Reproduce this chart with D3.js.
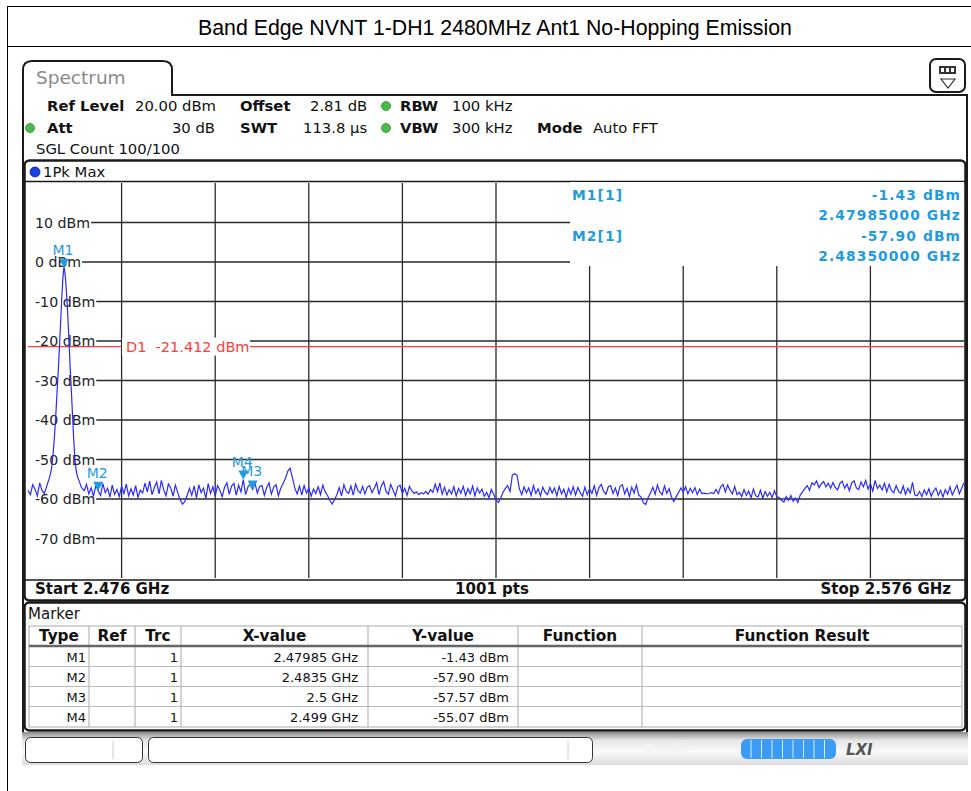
<!DOCTYPE html>
<html><head><meta charset="utf-8">
<script src="https://cdn.jsdelivr.net/npm/d3@7"></script>
<style>
body{margin:0;background:#fff;}
svg{display:block;}
text{font-family:"DejaVu Sans",Verdana,sans-serif;}
</style>
</head><body>
<svg id="c" width="971" height="791"></svg>
<script>
// ---------------- data ----------------
const chartTitle = "Band Edge NVNT 1-DH1 2480MHz Ant1 No-Hopping Emission";
const startFreqMHz = 2476, stopFreqMHz = 2576;
const topLevelDbm = 20, bottomLevelDbm = -80;
const freqGridMHz = [2486, 2496, 2506, 2516, 2526, 2536, 2546, 2556, 2566];
const levelTicks = [10, 0, -10, -20, -30, -40, -50, -60, -70];
const levelTickLabels = ["10 dBm", "0 dBm", "-10 dBm", "-20 dBm", "-30 dBm", "-40 dBm", "-50 dBm", "-60 dBm", "-70 dBm"];
const d1LevelDbm = -21.412;
const d1Label = "D1  -21.412 dBm";

const noiseStepMHz = 0.25;
const leftNoiseStartMHz = 2476;
const leftNoiseDbm = [-57.8, -58.9, -56.4, -57.5, -59.2, -55.9, -57.9, -58.6];

const peakFreqMHz = [2477.9, 2478.1, 2478.3, 2478.5, 2478.6, 2478.7, 2478.8, 2478.9, 2479.0, 2479.1,
  2479.2, 2479.3, 2479.4, 2479.5, 2479.6, 2479.7, 2479.8, 2479.85, 2479.9, 2480.0, 2480.1, 2480.2,
  2480.3, 2480.4, 2480.5, 2480.6, 2480.7, 2480.8, 2480.9, 2481.0, 2481.1, 2481.2, 2481.35, 2481.5,
  2481.65, 2481.8];
const peakDbm = [-57.5, -56.0, -54.6, -52.5, -50.5, -48.0, -45.0, -41.5, -37.5, -33.0,
  -29.0, -24.5, -19.5, -14.5, -9.5, -5.0, -2.0, -1.43, -1.8, -4.0, -7.5, -11.0,
  -16.0, -21.0, -26.5, -31.0, -36.0, -41.0, -45.5, -49.5, -52.0, -53.5, -54.8, -55.6,
  -56.8, -57.4];

const rightNoiseStartMHz = 2482;
const rightNoiseDbm = [
  -57.9, -56.3, -58.7, -57.2, -59.3, -56.6, -57.9, -59.1, -56.1, -58.4, -57.3, -59.5, -56.5, -58.8, -57.6, -59.4, -56.7, -58.6, -56.2, -59.2,
  -57.4, -59.0, -56.6, -59.6, -57.8, -58.5, -56.0, -58.2, -55.5, -58.9, -57.1, -55.7, -58.7, -55.3, -57.7, -59.2, -56.2, -57.2, -59.3, -56.5,
  -58.4, -60.2, -61.3, -60.6, -59.1, -57.3, -59.1, -56.7, -59.7, -56.4, -58.4, -57.2, -59.9, -56.1, -58.6, -56.9, -59.2, -56.6, -57.8, -59.4,
  -57.0, -55.9, -58.8, -56.7, -56.1, -59.0, -56.5, -58.2, -55.07, -58.9, -56.9, -56.3, -57.57, -56.0, -58.5, -56.8, -56.6, -59.1, -57.1, -55.9,
  -58.8, -57.0, -56.4, -59.2, -57.3, -56.1, -54.8, -53.0, -52.2, -54.6, -57.2, -58.7, -56.7, -59.0, -56.6, -58.5, -57.2, -59.3, -57.5, -58.6,
  -56.9, -58.9, -56.5, -58.2, -59.1, -60.4, -61.3, -60.1, -58.9, -57.1, -59.2, -56.4, -58.1, -58.6, -56.7, -59.0, -56.2, -57.9, -58.5, -56.8,
  -58.7, -57.0, -56.6, -58.4, -57.2, -55.9, -58.9, -56.7, -55.6, -58.1, -58.8, -56.3, -57.7, -59.2, -56.9, -56.5, -58.6, -57.3, -59.1, -56.8,
  -57.9, -58.6, -58.2, -58.9, -58.4, -58.7, -58.1, -58.8, -57.6, -58.3, -56.2, -58.1, -55.9, -58.8, -57.0, -59.0, -57.6, -58.7, -56.9, -59.2,
  -57.3, -58.6, -56.8, -59.1, -57.4, -58.7, -56.7, -59.2, -57.2, -58.5, -57.5, -59.3, -58.3, -59.7, -57.6, -58.8, -60.2, -60.9, -59.8, -58.3,
  -57.3, -56.6, -58.1, -53.9, -53.6, -54.0, -57.4, -58.9, -56.9, -58.4, -57.2, -59.1, -56.6, -58.6, -57.4, -59.2, -57.0, -58.3, -58.9, -57.1,
  -58.5, -57.2, -59.2, -56.8, -58.7, -57.5, -59.6, -57.3, -58.8, -56.9, -59.0, -57.1, -58.4, -59.3, -57.0, -58.9, -57.4, -58.6, -56.6, -59.1,
  -57.1, -56.3, -58.1, -58.8, -56.9, -56.6, -58.6, -57.2, -59.1, -56.8, -56.4, -58.7, -57.3, -59.4, -57.0, -58.5, -56.5, -59.0, -59.5, -61.0,
  -61.4, -59.6, -58.5, -57.0, -58.8, -56.5, -58.2, -58.9, -56.7, -58.6, -57.4, -59.5, -60.6, -59.4, -58.4, -57.2, -58.3, -56.9, -58.7, -57.3,
  -58.4, -57.1, -58.9, -57.5, -58.6, -58.5, -58.7, -58.6, -58.4, -58.6, -57.6, -58.6, -56.9, -56.3, -58.2, -56.5, -57.8, -58.7, -56.8, -58.9,
  -58.3, -59.4, -57.6, -59.1, -58.0, -59.7, -57.5, -59.2, -59.5, -57.8, -59.8, -58.1, -59.3, -58.3, -59.6, -57.9, -59.4, -59.6, -60.4, -60.8,
  -59.4, -60.3, -59.1, -60.6, -59.8, -60.9, -59.0, -58.2, -57.3, -56.6, -57.8, -55.9, -56.4, -55.4, -57.1, -56.2, -55.6, -56.9, -56.0, -57.3,
  -55.8, -57.1, -57.7, -56.0, -55.5, -57.3, -56.2, -57.9, -55.9, -55.4, -57.2, -57.6, -55.7, -56.9, -55.3, -57.5, -56.1, -58.0, -55.3, -57.3,
  -56.5, -57.7, -56.0, -58.2, -56.3, -57.8, -58.4, -56.6, -58.0, -58.6, -56.7, -58.8, -57.3, -58.5, -55.8, -59.0, -59.2, -58.1, -59.4, -57.7,
  -58.9, -57.4, -59.3, -58.0, -57.2, -59.1, -57.8, -59.5, -57.6, -58.8, -56.9, -59.0, -57.7, -56.5, -58.7, -57.3, -55.9
];

const markerNames = ["M1", "M2", "M3", "M4"];
const markerFreqGHz = [2.47985, 2.4835, 2.5, 2.499];
const markerDbm = [-1.43, -57.90, -57.57, -55.07];
const markerXText = ["2.47985 GHz", "2.4835 GHz", "2.5 GHz", "2.499 GHz"];
const markerYText = ["-1.43 dBm", "-57.90 dBm", "-57.57 dBm", "-55.07 dBm"];
const markerTrc = ["1", "1", "1", "1"];
const tableHeaders = ["Type", "Ref", "Trc", "X-value", "Y-value", "Function", "Function Result"];

// ---------------- drawing ----------------
const svg = d3.select("#c");
const W = 971, H = 791;
const blue = "#1f9be0";
const dark = "#1a1a1a";

// outer table lines
svg.append("line").attr("x1", 7.5).attr("x2", 7.5).attr("y1", 6).attr("y2", H).attr("stroke", "#000");
svg.append("line").attr("x1", 7).attr("x2", W).attr("y1", 6.5).attr("y2", 6.5).attr("stroke", "#000");
svg.append("line").attr("x1", 7).attr("x2", W).attr("y1", 46.5).attr("y2", 46.5).attr("stroke", "#000");
svg.append("text").attr("x", 495).attr("y", 35).attr("text-anchor", "middle")
  .style("font-family", "'Liberation Sans', Arial, sans-serif").style("font-size", "21.3px").attr("fill", "#000")
  .text(chartTitle);

// screenshot frame
svg.append("path").attr("d", "M23,734 V95 V70 Q23,61 32,61 H163 Q172,61 172,70 V95 H967 V734")
  .attr("fill", "none").attr("stroke", dark).attr("stroke-width", 2);
svg.append("text").attr("x", 36).attr("y", 84).style("font-size", "18.5px").attr("fill", "#8a8a8a").text("Spectrum");
// icon
svg.append("rect").attr("x", 930).attr("y", 59).attr("width", 35).attr("height", 33).attr("rx", 6)
  .attr("fill", "#fff").attr("stroke", dark).attr("stroke-width", 2);
svg.append("rect").attr("x", 939).attr("y", 66).attr("width", 17).attr("height", 8).attr("fill", "#333");
[941, 946, 951].forEach(x => svg.append("rect").attr("x", x).attr("y", 68).attr("width", 3).attr("height", 4).attr("fill", "#fff"));
svg.append("path").attr("d", "M941,79 H955 L948,88 Z").attr("fill", "none").attr("stroke", "#333").attr("stroke-width", 1.2);

// info rows
const info = svg.append("g").style("font-size", "14.8px").attr("fill", "#111");
function t(x, y, s, bold, anchor) {
  const e = info.append("text").attr("x", x).attr("y", y).text(s);
  if (bold) e.style("font-weight", "bold");
  if (anchor) e.attr("text-anchor", anchor);
  return e;
}
function dot(cx, cy) {
  svg.append("circle").attr("cx", cx).attr("cy", cy).attr("r", 4.5).attr("fill", "#4cbb4c").attr("stroke", "#2f8f2f").attr("stroke-width", 0.8);
}
t(47, 111, "Ref Level", true); t(135, 111, "20.00 dBm");
t(240, 111, "Offset", true); t(310, 111, "2.81 dB");
dot(386, 106); t(400, 111, "RBW", true); t(452, 111, "100 kHz");
dot(30, 128); t(47, 133, "Att", true); t(215, 133, "30 dB", false, "end");
t(240, 133, "SWT", true); t(303, 133, "113.8 µs");
dot(386, 128); t(400, 133, "VBW", true); t(452, 133, "300 kHz");
t(537, 133, "Mode", true); t(593, 133, "Auto FFT");
t(36, 154, "SGL Count 100/100");

// plot frame
const PL = 28, PR = 964, PT = 183, PB = 578;
const x = d3.scaleLinear().domain([startFreqMHz, stopFreqMHz]).range([PL, PR]);
const y = d3.scaleLinear().domain([bottomLevelDbm, topLevelDbm]).range([PB, PT]);

svg.append("rect").attr("x", 24.5).attr("y", 160.5).attr("width", 941).attr("height", 440).attr("rx", 5)
  .attr("fill", "#fff").attr("stroke", dark).attr("stroke-width", 2.5);
svg.append("circle").attr("cx", 35).attr("cy", 172).attr("r", 5).attr("fill", "#1d3fe0").attr("stroke", "#0a1f8a").attr("stroke-width", 0.8);
svg.append("text").attr("x", 43).attr("y", 177).style("font-size", "14.8px").attr("fill", "#111").text("1Pk Max");
svg.append("line").attr("x1", 25).attr("x2", 965).attr("y1", 181.5).attr("y2", 181.5).attr("stroke", dark).attr("stroke-width", 1.5);
svg.append("line").attr("x1", 25).attr("x2", 965).attr("y1", 580).attr("y2", 580).attr("stroke", dark).attr("stroke-width", 1.5);

const grid = svg.append("g");
// vertical grid
grid.selectAll("line.v").data(freqGridMHz).enter().append("line")
  .attr("x1", d => x(d)).attr("x2", d => x(d)).attr("y1", PT).attr("y2", PB)
  .attr("stroke", "#2a2a2a").attr("stroke-width", 1.3);
// horizontal grid with labels
levelTicks.forEach((v, i) => {
  const lab = grid.append("text").attr("x", 35).attr("y", y(v) + 5).style("font-size", "14.2px").attr("fill", "#222").text(levelTickLabels[i]);
  const w = lab.node().getComputedTextLength();
  grid.append("line").attr("x1", 35 + w + 1).attr("x2", PR).attr("y1", y(v)).attr("y2", y(v))
    .attr("stroke", "#2a2a2a").attr("stroke-width", 1.3);
});

// D1 line
svg.append("line").attr("x1", PL).attr("x2", PR).attr("y1", y(d1LevelDbm)).attr("y2", y(d1LevelDbm)).attr("stroke", "#ff3b3b").attr("stroke-width", 1.2);
svg.append("rect").attr("x", 122).attr("y", y(d1LevelDbm) - 9).attr("width", 128).attr("height", 18).attr("fill", "#fff");
svg.append("text").attr("x", 126).attr("y", y(d1LevelDbm) + 5.5).style("font-size", "14.5px").style("white-space", "pre")
  .attr("fill", "#ff3b3b").text(d1Label);

// marker info panel
svg.append("rect").attr("x", 570).attr("y", PT - 1).attr("width", PR - 570).attr("height", 84).attr("fill", "#fff");
const mi = svg.append("g").style("font-size", "13.8px").style("font-weight", "bold").attr("fill", blue).style("letter-spacing", "1.1px");
mi.append("text").attr("x", 572).attr("y", 200).text("M1[1]");
mi.append("text").attr("x", 961).attr("y", 200).attr("text-anchor", "end").text("-1.43 dBm");
mi.append("text").attr("x", 961).attr("y", 220).attr("text-anchor", "end").text("2.47985000 GHz");
mi.append("text").attr("x", 572).attr("y", 241).text("M2[1]");
mi.append("text").attr("x", 961).attr("y", 241).attr("text-anchor", "end").text("-57.90 dBm");
mi.append("text").attr("x", 961).attr("y", 261).attr("text-anchor", "end").text("2.48350000 GHz");

// trace
const trace = [];
leftNoiseDbm.forEach((v, i) => trace.push([leftNoiseStartMHz + i * noiseStepMHz, v]));
peakFreqMHz.forEach((f, i) => trace.push([f, peakDbm[i]]));
rightNoiseDbm.forEach((v, i) => trace.push([rightNoiseStartMHz + i * noiseStepMHz, v]));
const line = d3.line().x(d => x(d[0])).y(d => y(d[1]));
svg.append("path").datum(trace).attr("d", line).attr("fill", "none").attr("stroke", "#2b2bff").attr("stroke-width", 1.2);

// markers
markerNames.forEach((m, i) => {
  const mx = x(markerFreqGHz[i] * 1000), my = y(markerDbm[i]);
  svg.append("path").attr("d", `M${mx - 5},${my - 9} L${mx + 5},${my - 9} L${mx},${my} Z`).attr("fill", blue);
  svg.append("text").attr("x", mx - 1).attr("y", my - 13).attr("text-anchor", "middle").style("font-size", "14px").attr("fill", blue).text(m);
});

// bottom bar texts
const bb = svg.append("g").style("font-size", "15px").style("font-weight", "bold").attr("fill", "#111");
bb.append("text").attr("x", 35).attr("y", 594).text("Start 2.476 GHz");
bb.append("text").attr("x", 492).attr("y", 594).attr("text-anchor", "middle").text("1001 pts");
bb.append("text").attr("x", 951).attr("y", 594).attr("text-anchor", "end").text("Stop 2.576 GHz");

// marker table
svg.append("rect").attr("x", 24.5).attr("y", 602.5).attr("width", 941).attr("height", 128).attr("rx", 5)
  .attr("fill", "#fff").attr("stroke", dark).attr("stroke-width", 2.5);
svg.append("text").attr("x", 28).attr("y", 619).style("font-size", "15px").attr("fill", "#111").text("Marker");
const cols = [29, 89, 135, 181, 368, 518, 642, 962];
const tb = svg.append("g");
tb.append("rect").attr("x", 29).attr("y", 626).attr("width", 933).attr("height", 101).attr("fill", "none").attr("stroke", "#aaa");
cols.slice(1, -1).forEach(c => tb.append("line").attr("x1", c).attr("x2", c).attr("y1", 626).attr("y2", 727).attr("stroke", "#aaa"));
tb.append("line").attr("x1", 29).attr("x2", 962).attr("y1", 646).attr("y2", 646).attr("stroke", "#666").attr("stroke-width", 2.5);
[666.5, 686.5, 706.5].forEach(v => tb.append("line").attr("x1", 29).attr("x2", 962).attr("y1", v).attr("y2", v).attr("stroke", "#bbb"));
tableHeaders.forEach((h, i) => tb.append("text").attr("x", (cols[i] + cols[i + 1]) / 2).attr("y", 641).attr("text-anchor", "middle")
  .style("font-size", "15.3px").style("font-weight", "bold").attr("fill", "#111").text(h));
markerNames.forEach((m, i) => {
  const yy = 662 + i * 20;
  const cell = (cx, s) => tb.append("text").attr("x", cx).attr("y", yy).attr("text-anchor", "end").style("font-size", "13px").attr("fill", "#111").text(s);
  cell(86, m); cell(178, markerTrc[i]); cell(358, markerXText[i]); cell(509, markerYText[i]);
});

// status bar
const defs = svg.append("defs");
const g1 = defs.append("linearGradient").attr("id", "sb").attr("x1", 0).attr("x2", 0).attr("y1", 0).attr("y2", 1);
g1.append("stop").attr("offset", "0").attr("stop-color", "#8c8c8c");
g1.append("stop").attr("offset", "0.25").attr("stop-color", "#e6e6e6");
g1.append("stop").attr("offset", "0.6").attr("stop-color", "#fafafa");
g1.append("stop").attr("offset", "1").attr("stop-color", "#dcdcdc");
svg.append("rect").attr("x", 22).attr("y", 732).attr("width", 946).attr("height", 33).attr("fill", "url(#sb)");
svg.append("rect").attr("x", 25.5).attr("y", 737.5).attr("width", 117).attr("height", 25).attr("rx", 5).attr("fill", "#fff").attr("stroke", "#333");
svg.append("line").attr("x1", 113).attr("x2", 113).attr("y1", 741).attr("y2", 759).attr("stroke", "#ccc");
svg.append("rect").attr("x", 148.5).attr("y", 737.5).attr("width", 444).attr("height", 25).attr("rx", 5).attr("fill", "#fff").attr("stroke", "#333");
svg.append("line").attr("x1", 568).attr("x2", 568).attr("y1", 741).attr("y2", 759).attr("stroke", "#ccc");
svg.append("text").attr("x", 645).attr("y", 753).style("font-size", "13px").style("font-weight", "bold").attr("fill", "#f4f4f4").text("Ready");
svg.append("rect").attr("x", 741).attr("y", 739).attr("width", 95).attr("height", 20).attr("rx", 6).attr("fill", "#3b9cf5");
d3.range(8).forEach(k => svg.append("line").attr("x1", 751 + k * 10.5).attr("x2", 751 + k * 10.5).attr("y1", 740).attr("y2", 758).attr("stroke", "#d8ecff").attr("stroke-width", 1));
svg.append("text").attr("x", 846).attr("y", 755).style("font-size", "15px").style("font-weight", "bold").style("font-style", "italic")
  .attr("fill", "#555").text("LXI");
</script>
</body></html>
